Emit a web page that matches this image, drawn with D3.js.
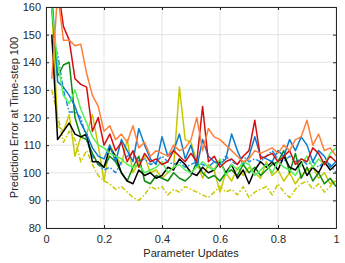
<!DOCTYPE html>
<html>
<head>
<meta charset="utf-8">
<script src="https://cdn.jsdelivr.net/npm/d3@7"></script>
<style>
  body { margin: 0; background: #fff; }
  text { font-family: "Liberation Sans", Arial, sans-serif; }
</style>
</head>
<body>
<div id="chart"></div>
<script>
// x positions (parameter updates, fraction)
var xValues = d3.range(50).map(function (i) { return +(0.02 + i * 0.02).toFixed(2); });

var xTicks = [0, 0.2, 0.4, 0.6, 0.8, 1];
var yTicks = [80, 90, 100, 110, 120, 130, 140, 150, 160];

// series values
var redVals = [175,168,153,148,134,132,131,115,120,110,114,108,111,104,108,102,107,104,105,103,104,108,106,104,107,104,124,104,106,102,104,105,103,106,108,119,105,106,107,104,106,108,103,105,104,109,107,103,106,104];
var orangeVals = [134,165,148,148,146,146.5,136,128,124,115,117,112,114,111,117,109,111,106,108,107,106,110,108,109,112,120,108,116,113,112,110,108,106,104,105,108,107,108,109,107,110,108,112,113,119,110,114,108,109,106];
var blueVals = [165,133,131,128,124,118,114,109,106,105,110,104,112,108,104,116,110,105,103,113,106,108,114,105,110,102,112,106,104,103,105,114,108,103,106,113,106,105,104,108,106,112,108,113,110,104,108,106,102,104];
var blueDashVals = [148,143,130,122,122,120,112,106,103,101,102,100,104,106,107,104,105,103,104,106,104,103,104,102,103,104,103,102,104,103,106,104,103,106,104,105,104,106,108,105,104,106,104,105,103,104,102,104,103,100];
var blackVals = [150,112,115,118,114,113,114,104,104,102,109,106,100,97,96,101,99,100,98,99,102,101,105,103,100,99,102,100,101,104,100,103,98,101,96,101,104,102,104,101,106,102,101,104,99,102,100,104,101,103];
var darkGreenVals = [160,135,139,140,120,113,112,107,103,102,106,104,100,97,102,106,97,96,99,98,97,100,98,97,99,104,100,98,99,97,100,101,99,103,100,102,99,101,103,104,108,100,107,98,102,97,100,96,98,95];
var lightGreenVals = [160,140,128,125,130,123,118,113,110,109,107,106,105,103,102,103,100,101,102,104,100,102,103,101,100,102,104,102,101,105,99,103,101,104,103,99,101,103,100,104,102,101,99,103,106,102,105,103,107,109];
var yellowVals = [160,117,115,121,106,113,114,121,110,97,110,106,103,112,100,104,106,100,101,98,100,102,131,112,111,104,98,103,101,93,100,97,102,99,102,100,98,104,99,101,97,100,96,99,101,102,98,100,96,97];
var yellowDashVals = [130,121,111,115,112,104,108,103,99,97,96,94,95,93,91,90,92,95,94,95,92,94,93,95,94,93,92,91,93,95,93,94,92,95,91,93,94,95,92,96,93,91,94,96,97,94,96,93,95,98];

var seriesList = [
  { name: "yellowDash", values: yellowDashVals, color: "#c8c800", dash: "5,2,1.5,2" },
  { name: "yellow", values: yellowVals, color: "#c8c800", dash: null },
  { name: "blueDash", values: blueDashVals, color: "#1f8be0", dash: "5,2,1.5,2" },
  { name: "darkGreen", values: darkGreenVals, color: "#0e8a0e", dash: null },
  { name: "black", values: blackVals, color: "#000000", dash: null },
  { name: "blue", values: blueVals, color: "#0a7ccc", dash: null },
  { name: "lightGreen", values: lightGreenVals, color: "#55f055", dash: null },
  { name: "red", values: redVals, color: "#d40f0f", dash: null },
  { name: "orange", values: orangeVals, color: "#ff7f3a", dash: null }
];

var svgWidth = 345;
var svgHeight = 263;
var margin = { top: 7, right: 9, bottom: 35, left: 46 };
var chartWidth = svgWidth - margin.left - margin.right;
var chartHeight = svgHeight - margin.top - margin.bottom;

var svg = d3.select("#chart")
  .append("svg")
  .attr("width", svgWidth)
  .attr("height", svgHeight);

var chartGroup = svg.append("g")
  .attr("transform", `translate(${margin.left}, ${margin.top})`);

var xScale = d3.scaleLinear().domain([0, 1]).range([0, chartWidth]);
var yScale = d3.scaleLinear().domain([80, 160]).range([chartHeight, 0]);

// grid lines
chartGroup.append("g")
  .selectAll("line.gx")
  .data(xTicks)
  .enter()
  .append("line")
  .attr("x1", d => xScale(d)).attr("x2", d => xScale(d))
  .attr("y1", 0).attr("y2", chartHeight)
  .attr("stroke", "#e3e3e3").attr("stroke-width", 1);

chartGroup.append("g")
  .selectAll("line.gy")
  .data(yTicks)
  .enter()
  .append("line")
  .attr("x1", 0).attr("x2", chartWidth)
  .attr("y1", d => yScale(d)).attr("y2", d => yScale(d))
  .attr("stroke", "#e3e3e3").attr("stroke-width", 1);

// clip lines to plot area
svg.append("defs").append("clipPath").attr("id", "plotClip")
  .append("rect").attr("width", chartWidth).attr("height", chartHeight);

var line = d3.line()
  .x((d, i) => xScale(xValues[i]))
  .y(d => yScale(d));

chartGroup.append("g")
  .attr("clip-path", "url(#plotClip)")
  .selectAll("path")
  .data(seriesList)
  .enter()
  .append("path")
  .attr("d", d => line(d.values))
  .attr("fill", "none")
  .attr("stroke", d => d.color)
  .attr("stroke-width", 1.5)
  .attr("stroke-dasharray", d => d.dash)
  .attr("stroke-linejoin", "round");

// axes, ticks pointing inside (matlab style)
var axisColor = "#262626";

var bottomAxis = d3.axisBottom(xScale).tickValues(xTicks).tickSize(-3).tickPadding(7)
  .tickFormat(d => d === 0 || d === 1 ? d : d3.format(".1f")(d));
var leftAxis = d3.axisLeft(yScale).tickValues(yTicks).tickSize(-3).tickPadding(5);
var topAxis = d3.axisTop(xScale).tickValues(xTicks).tickSize(-3).tickFormat("");
var rightAxis = d3.axisRight(yScale).tickValues(yTicks).tickSize(-3).tickFormat("");

function styleAxis(g) {
  g.select(".domain").attr("stroke", axisColor);
  g.selectAll(".tick line").attr("stroke", axisColor);
  g.selectAll(".tick text").attr("fill", axisColor).style("font-size", "11px")
    .style("font-family", "Liberation Sans, Arial, sans-serif");
}

chartGroup.append("g").attr("transform", `translate(0, ${chartHeight})`).call(bottomAxis).call(styleAxis);
chartGroup.append("g").call(leftAxis).call(styleAxis);
chartGroup.append("g").call(topAxis).call(styleAxis);
chartGroup.append("g").attr("transform", `translate(${chartWidth}, 0)`).call(rightAxis).call(styleAxis);

// axis labels
chartGroup.append("text")
  .attr("transform", "rotate(-90)")
  .attr("x", -chartHeight / 2)
  .attr("y", -margin.left + 18)
  .attr("text-anchor", "middle")
  .attr("fill", axisColor)
  .style("font-size", "11px")
  .text("Prediction Error at Time-step 100");

chartGroup.append("text")
  .attr("x", chartWidth / 2)
  .attr("y", chartHeight + 29)
  .attr("text-anchor", "middle")
  .attr("fill", axisColor)
  .style("font-size", "11px")
  .text("Parameter Updates");
</script>
</body>
</html>
